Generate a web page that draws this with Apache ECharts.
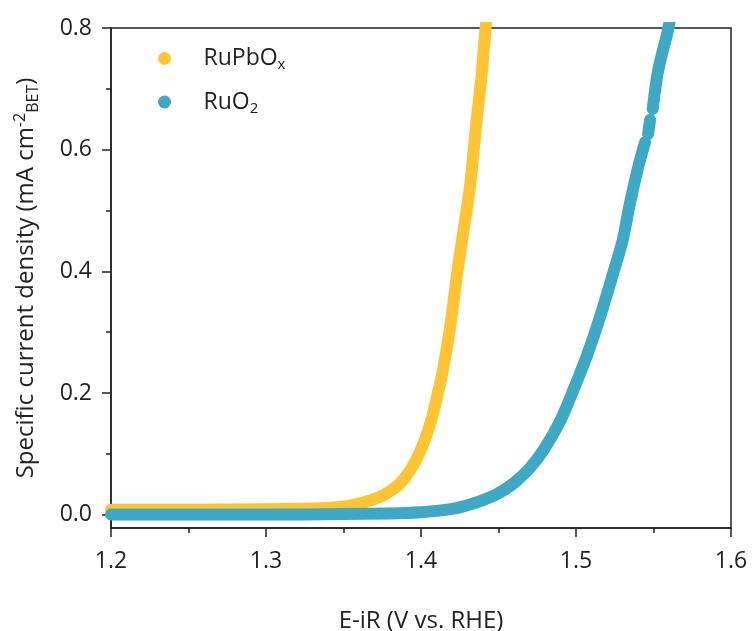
<!DOCTYPE html>
<html>
<head>
<meta charset="utf-8">
<script src="https://cdn.jsdelivr.net/npm/echarts@6/dist/echarts.min.js"></script>
<style>
  html, body { margin: 0; padding: 0; background: #fff; }
  #chart { width: 753px; height: 631px; }
</style>
</head>
<body>
<div id="chart"></div>
<script>
// RuPbOx polarisation curve
const ruPbOxE = [1.200, 1.250, 1.300, 1.330, 1.350, 1.360, 1.368, 1.375, 1.381, 1.386, 1.390, 1.394, 1.398, 1.402, 1.406, 1.410, 1.414, 1.418, 1.421, 1.4235, 1.427, 1.4316, 1.434, 1.4361, 1.439, 1.4413, 1.4425];
const ruPbOxJ = [0.008, 0.008, 0.009, 0.010, 0.013, 0.018, 0.024, 0.031, 0.040, 0.050, 0.062, 0.077, 0.096, 0.120, 0.150, 0.190, 0.236, 0.295, 0.350, 0.400, 0.460, 0.539, 0.600, 0.654, 0.720, 0.790, 0.820];

// RuO2 curve (null = small gap in the measured points)
const ruO2E = [1.200, 1.300, 1.350, 1.380, 1.400, 1.413, 1.425, 1.440, 1.450, 1.460, 1.470, 1.480, 1.490, 1.498, 1.507, 1.5155, 1.524, 1.530, 1.5348, 1.540, 1.5445, 1.5455, 1.5465, 1.5478, 1.5485, 1.5495, 1.553, 1.5594, 1.561];
const ruO2J = [0.000, 0.000, 0.001, 0.002, 0.004, 0.007, 0.012, 0.024, 0.035, 0.052, 0.076, 0.110, 0.155, 0.203, 0.261, 0.325, 0.397, 0.450, 0.512, 0.570, 0.612, null, 0.626, 0.649, null, 0.667, 0.730, 0.797, 0.820];

const xTicks = [1.2, 1.3, 1.4, 1.5, 1.6];
const yTicks = [0.0, 0.2, 0.4, 0.6, 0.8];
const yMinorTicks = [0.1, 0.3, 0.5, 0.7];

const pair = (xs, ys) => xs.map((x, i) => [x, ys[i]]);

const axisColor = "#222";
const font = "'Open Sans', Lato, sans-serif";

const chart = echarts.init(document.getElementById("chart"));
chart.setOption({
  animation: false,
  textStyle: { fontFamily: font },
  grid: {
    left: 111,
    right: 22,
    top: 28,
    bottom: 103,
    outerBoundsMode: "none",
    containLabel: false,
    show: true,
    borderColor: axisColor,
    borderWidth: 1.5,
    backgroundColor: "transparent",
  },
  legend: {
    orient: "vertical",
    left: 153,
    top: 42,
    itemWidth: 68,
    itemHeight: 13,
    itemGap: 18,
    icon: "circle",
    selectedMode: false,
    formatter: (name) => (name === "RuPbOx" ? "RuPbO{sub|x}" : "RuO{sub|2}"),
    textStyle: {
      fontSize: 23,
      color: "#222",
      fontFamily: font,
      rich: {
        sub: { fontSize: 15, padding: [13, 0, 0, 0], color: "#222", fontFamily: font },
      },
    },
    data: ["RuPbOx", "RuO2"],
  },
  xAxis: {
    type: "value",
    min: 1.2,
    max: 1.6,
    interval: 0.1,
    name: "E-iR (V vs. RHE)",
    nameLocation: "middle",
    nameGap: 81,
    nameTextStyle: { fontSize: 24, color: "#222" },
    splitLine: { show: false },
    axisLine: { onZero: false, lineStyle: { color: axisColor, width: 1.5 } },
    axisTick: { show: true, inside: false, length: 9, lineStyle: { color: axisColor, width: 1.5 } },
    minorTick: { show: true, splitNumber: 2, length: 5, lineStyle: { color: axisColor, width: 1.5 } },
    axisLabel: {
      margin: 22,
      fontSize: 23,
      color: "#222",
      formatter: (v) => (xTicks.some((t) => Math.abs(t - v) < 1e-9) ? v.toFixed(1) : ""),
    },
  },
  yAxis: [
    {
      type: "value",
      min: -0.022,
      max: 0.8,
      name: "Specific current density (mA cm{sup|-2}{sub|BET})",
      nameLocation: "middle",
      nameGap: 70,
      nameTextStyle: {
        fontSize: 24,
        color: "#222",
        rich: {
          sup: { fontSize: 16, padding: [0, 0, 13, 0], color: "#222" },
          sub: { fontSize: 16, padding: [13, 0, 0, 0], color: "#222" },
        },
      },
      splitLine: { show: false },
      axisLine: { onZero: false, lineStyle: { color: axisColor, width: 1.5 } },
      axisTick: {
        show: true,
        inside: false,
        length: 9,
        customValues: yTicks,
        lineStyle: { color: axisColor, width: 1.5 },
      },
      axisLabel: {
        margin: 19,
        fontSize: 23,
        color: "#222",
        customValues: yTicks,
        formatter: (v) => v.toFixed(1),
      },
    },
    {
      // minor ticks only
      type: "value",
      position: "left",
      min: -0.022,
      max: 0.8,
      splitLine: { show: false },
      axisLine: { show: false },
      axisLabel: { show: false },
      axisTick: {
        show: true,
        inside: false,
        length: 5,
        customValues: yMinorTicks,
        lineStyle: { color: axisColor, width: 1.5 },
      },
    },
  ],
  series: [
    {
      name: "RuPbOx",
      type: "line",
      data: pair(ruPbOxE, ruPbOxJ),
      smooth: 0.3,
      showSymbol: false,
      symbol: "circle",
      symbolSize: 13,
      itemStyle: { color: "#FEC433" },
      lineStyle: { width: 12, color: "#FEC433", cap: "round", join: "round" },
    },
    {
      name: "RuO2",
      type: "line",
      data: pair(ruO2E, ruO2J),
      smooth: 0.3,
      connectNulls: false,
      showSymbol: false,
      symbol: "circle",
      symbolSize: 13,
      itemStyle: { color: "#3EA8C5" },
      lineStyle: { width: 12, color: "#3EA8C5", cap: "round", join: "round" },
    },
  ],
});
</script>
</body>
</html>
